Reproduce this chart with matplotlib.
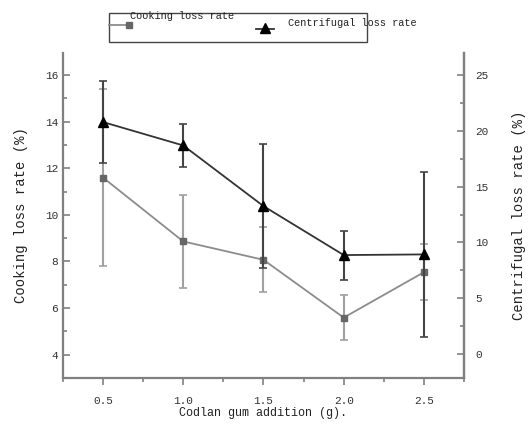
import matplotlib
matplotlib.use("Agg")
import matplotlib.pyplot as plt
from matplotlib.patches import Rectangle
from matplotlib.lines import Line2D
from matplotlib.ticker import MultipleLocator

plt.rcParams['font.family'] = ['Liberation Mono', 'DejaVu Sans Mono']

# data
gum = [0.5, 1.0, 1.5, 2.0, 2.5]
cooking_loss = [11.6, 8.86, 8.07, 5.59, 7.54]
cooking_err = [3.8, 2.0, 1.4, 0.95, 1.2]
centrifugal_loss = [20.8, 18.7, 13.26, 8.87, 8.93]
centrifugal_err = [3.7, 1.9, 5.55, 2.2, 7.4]

spine_col = '#808080'
gray_line = '#8c8c8c'
gray_mark = '#666666'
dark_line = '#333333'

fig = plt.figure(figsize=(5.28, 4.30), dpi=100)
ax = fig.add_axes([0.119, 0.121, 0.760, 0.756])
ax2 = ax.twinx()

# cooking loss (left axis)
ax.errorbar(gum, cooking_loss, yerr=cooking_err, color=gray_line, ecolor='#a0a0a0',
            elinewidth=1.5, capsize=3, capthick=1.2, lw=1.3,
            marker='s', ms=5, mfc=gray_mark, mec=gray_mark, zorder=3)

# centrifugal loss (right axis)
ax2.errorbar(gum, centrifugal_loss, yerr=centrifugal_err, color=dark_line, ecolor='#444444',
             elinewidth=1.5, capsize=3, capthick=1.2, lw=1.3,
             marker='^', ms=7, mfc='black', mec='black', zorder=3)

ax.set_xlim(0.25, 2.75)
ax.set_ylim(3, 16.95)
ax2.set_ylim(-2.15, 27)

ax.xaxis.set_major_locator(MultipleLocator(0.5))
ax.xaxis.set_minor_locator(MultipleLocator(0.25))
ax.yaxis.set_major_locator(MultipleLocator(2))
ax.yaxis.set_minor_locator(MultipleLocator(1))
ax2.yaxis.set_major_locator(MultipleLocator(5))
ax2.yaxis.set_minor_locator(MultipleLocator(2.5))
ax.set_xticks([0.5, 1.0, 1.5, 2.0, 2.5])
ax.set_xticklabels(['0.5', '1.0', '1.5', '2.0', '2.5'])

for a in (ax, ax2):
    a.spines['top'].set_visible(False)
    for s in ('left', 'right', 'bottom'):
        a.spines[s].set_color(spine_col)
        a.spines[s].set_linewidth(1.6)
    a.tick_params(which='both', color=spine_col, width=1.2, labelsize=8, labelcolor='#333333')
    a.tick_params(which='major', length=5)
    a.tick_params(which='minor', length=3)

ax.tick_params(axis='y', which='both', direction='in')
ax2.tick_params(axis='y', which='both', direction='in', pad=8)
ax.tick_params(axis='x', which='both', direction='out', pad=8)
ax2.spines['left'].set_visible(False)
ax2.spines['bottom'].set_visible(False)

ax.set_xlabel('Codlan gum addition (g).', fontsize=8.5, color='#222222', labelpad=1)
ax.set_ylabel('Cooking loss rate (%)', fontsize=10, color='#222222', labelpad=12)
ax2.set_ylabel('Centrifugal loss rate (%)', fontsize=10, color='#222222', labelpad=17)

# legend box drawn by hand, like the original
W, H = 528.0, 430.0
fig.add_artist(Rectangle((109 / W, 1 - 41.7 / H), (366.7 - 109) / W, 28.4 / H,
                         transform=fig.transFigure, fill=False, ec='#444444', lw=1.0))
fig.add_artist(Line2D([109 / W, 129 / W], [1 - 25 / H] * 2, transform=fig.transFigure,
                      color=gray_line, lw=1.3, marker='s', markevery=[1], ms=4,
                      mfc=gray_mark, mec=gray_mark))
fig.add_artist(Line2D([256 / W, 274 / W], [1 - 29 / H] * 2, transform=fig.transFigure,
                      color=dark_line, lw=1.3))
fig.add_artist(Line2D([265 / W], [1 - 28 / H], transform=fig.transFigure,
                      color='black', marker='^', ms=7, lw=0))
fig.text(130 / W, 1 - 16 / H, 'Cooking loss rate', fontsize=7.4, va='center', ha='left',
         color='#222222')
fig.text(288 / W, 1 - 23 / H, 'Centrifugal loss rate', fontsize=7.4, va='center', ha='left',
         color='#222222')

fig.savefig('out.png', dpi=100)
